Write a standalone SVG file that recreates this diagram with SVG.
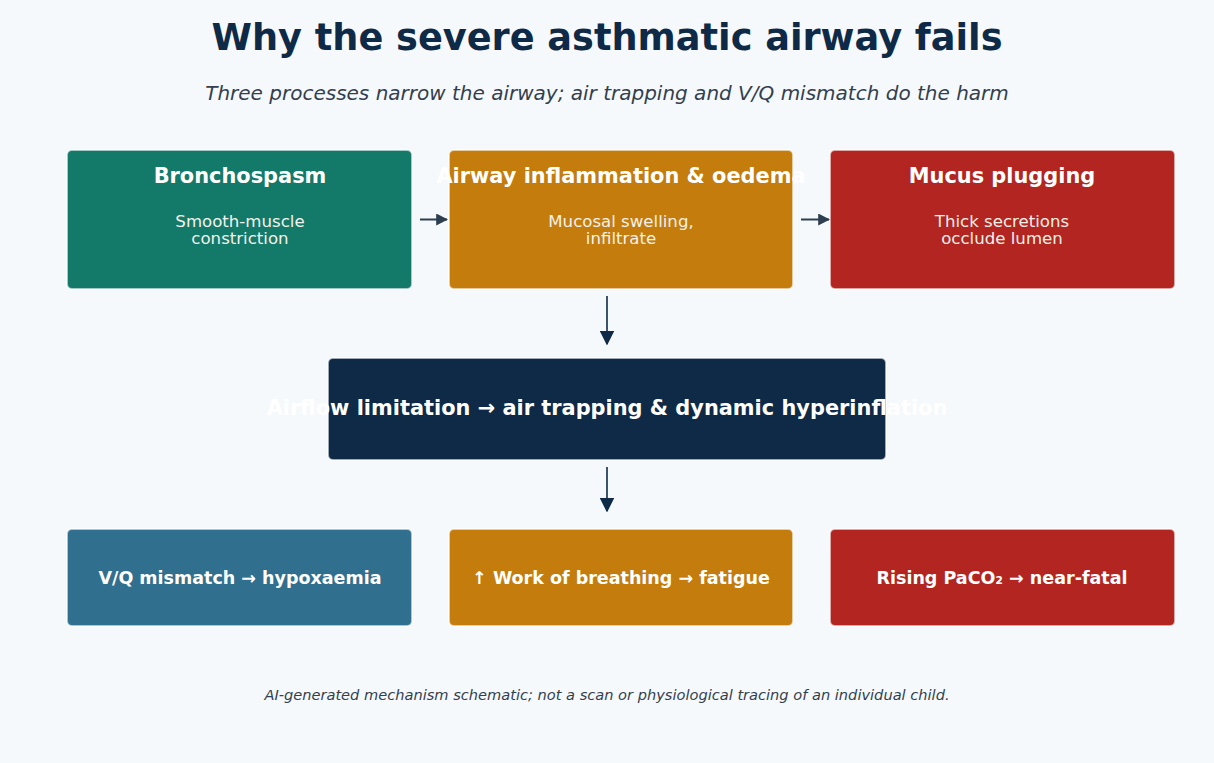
<svg xmlns="http://www.w3.org/2000/svg" width="1214" height="763" viewBox="0 0 1214 763">
<defs>
<marker id="ah" viewBox="0 0 10 10" refX="9" refY="5" markerWidth="6" markerHeight="6" orient="auto" markerUnits="strokeWidth"><path d="M0,0 L10,5 L0,10 z" fill="#2d3e50"/></marker>
<marker id="av" viewBox="0 0 10 10" refX="9" refY="5" markerWidth="9" markerHeight="9" orient="auto" markerUnits="strokeWidth"><path d="M0,0 L10,5 L0,10 z" fill="#0f2a47"/></marker>
</defs>
<style>
text{font-family:"DejaVu Sans","Liberation Sans",sans-serif;text-anchor:middle}
.box{stroke:#ffffff;stroke-width:2;stroke-opacity:0.6}
.hd{font-weight:bold;font-size:20.9px;fill:#ffffff}
.bd{font-size:16.6px;fill:#f4f1ea}
.bt{font-weight:bold;font-size:17.5px;fill:#ffffff}
</style>
<rect width="1214" height="763" fill="#f5f9fc"/>
<text x="607" y="50" font-size="36.7" font-weight="bold" fill="#0f2a47">Why the severe asthmatic airway fails</text>
<text x="607" y="100" font-size="20" font-style="italic" fill="#333f4f">Three processes narrow the airway; air trapping and V/Q mismatch do the harm</text>
<g id="n1"><rect class="box" x="67" y="150" width="345" height="139" rx="5" fill="#137a6a"/><text class="hd" x="240" y="183">Bronchospasm</text><text class="bd" x="240" y="227">Smooth-muscle</text><text class="bd" x="240" y="244">constriction</text></g>
<g id="n2"><rect class="box" x="449" y="150" width="344" height="139" rx="5" fill="#c47c0c"/><text class="hd" x="621" y="183">Airway inflammation &amp; oedema</text><text class="bd" x="621" y="227">Mucosal swelling,</text><text class="bd" x="621" y="244">infiltrate</text></g>
<g id="n3"><rect class="box" x="830" y="150" width="345" height="139" rx="5" fill="#b22520"/><text class="hd" x="1002" y="183">Mucus plugging</text><text class="bd" x="1002" y="227">Thick secretions</text><text class="bd" x="1002" y="244">occlude lumen</text></g>
<g id="n4"><rect class="box" x="328" y="358" width="558" height="102" rx="5" fill="#0f2a47"/><text class="hd" x="607" y="415">Airflow limitation → air trapping &amp; dynamic hyperinflation</text></g>
<g id="n5"><rect class="box" x="67" y="529" width="345" height="97" rx="5" fill="#316f8e"/><text class="bt" x="240" y="584">V/Q mismatch → hypoxaemia</text></g>
<g id="n6"><rect class="box" x="449" y="529" width="344" height="97" rx="5" fill="#c47c0c"/><text class="bt" x="621" y="584">↑ Work of breathing → fatigue</text></g>
<g id="n7"><rect class="box" x="830" y="529" width="345" height="97" rx="5" fill="#b22520"/><text class="bt" x="1002" y="584">Rising PaCO₂ → near-fatal</text></g>
<g id="connectors" fill="none">
<line x1="420" y1="219.5" x2="447" y2="219.5" stroke="#2d3e50" stroke-width="2" marker-end="url(#ah)"/>
<line x1="801" y1="219.5" x2="829" y2="219.5" stroke="#2d3e50" stroke-width="2" marker-end="url(#ah)"/>
<line x1="607" y1="296" x2="607" y2="344" stroke="#0f2a47" stroke-width="1.6" marker-end="url(#av)"/>
<line x1="607" y1="467" x2="607" y2="511" stroke="#0f2a47" stroke-width="1.6" marker-end="url(#av)"/>
</g>
<text x="607" y="700" font-size="14.6" font-style="italic" fill="#333f4f">AI-generated mechanism schematic; not a scan or physiological tracing of an individual child.</text>
</svg>
